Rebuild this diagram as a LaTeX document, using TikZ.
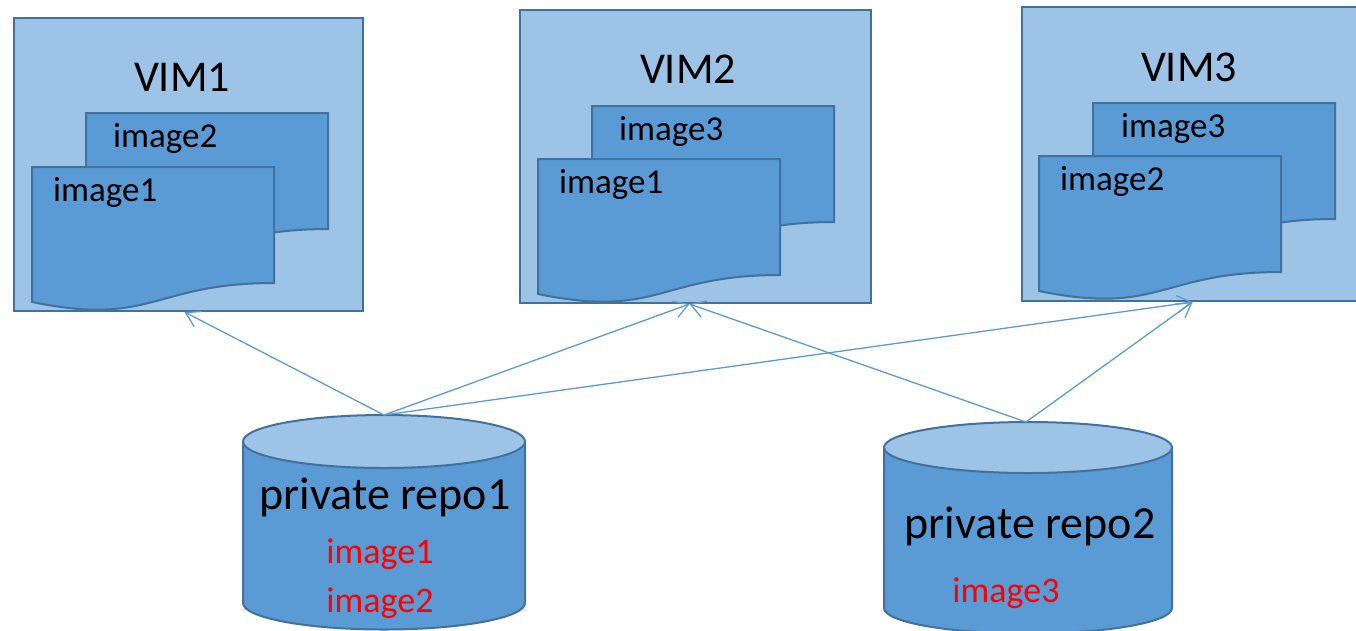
\documentclass[tikz,border=0pt]{standalone}
\usepackage{fontspec}
\setmainfont{Carlito}
\usetikzlibrary{arrows.meta}

\definecolor{vimfill}{HTML}{9DC3E6}
\definecolor{docfill}{HTML}{5B9BD5}
\definecolor{edgeblue}{HTML}{41719C}

% wavy image sheet: (left,top:text offset){name}{text}
\def\imgdoc(#1,#2:#3)#4#5{
	\draw[line width=2pt, draw=edgeblue, fill=docfill] (#1,#2) -- (#1+242,#2) -- (#1+242,#2+116)
		.. controls (#1+121,#2+116) and (#1+121,#2+160) .. (#1,#2+135) -- cycle;
	\node[doctext, anchor=base west] (#4) at (#1+#3,#2+34) {#5};
}
% repo drum: (centre x,top ellipse y,bottom ellipse y:half width,ellipse radius)
\def\repodrum(#1,#2,#3:#4,#5){
	\draw[line width=2pt, draw=edgeblue, fill=docfill] (#1-#4,#2) -- (#1-#4,#3)
		arc[start angle=180, end angle=0, x radius=#4, y radius=#5] -- (#1+#4,#2) -- cycle;
	\draw[line width=2pt, draw=edgeblue, fill=vimfill] (#1,#2) ellipse[x radius=#4, y radius=#5];
}

\tikzset{
	vimbox/.style={draw=edgeblue, line width=2pt, fill=vimfill, inner sep=0},
	vimtext/.style={inner sep=0, font=\fontsize{44}{50}\selectfont},
	doctext/.style={inner sep=0, font=\fontsize{35}{40}\selectfont},
	repotext/.style={inner sep=0, font=\fontsize{46}{52}\selectfont},
	redtext/.style={inner sep=0, text=red, font=\fontsize{36}{40}\selectfont},
	link/.style={draw=docfill, line width=1.3pt, -{Straight Barb[length=14pt,width=17pt]}}
}

\begin{document}
\begin{tikzpicture}[x=1pt, y=-1pt]
	%%%%% START %%%%%
	\clip (0,0) rectangle (1356,630);

	% VIM1
	\node[vimbox, minimum width=349pt, minimum height=293pt] (vimA) at (188.5,164.5) {};
	\node[vimtext, anchor=base] (vimAname) at (182,91) {VIM1};
	\imgdoc(86,113:27){vimAback}{image2}
	\imgdoc(32,167:21){vimAfront}{image1}

	% VIM2
	\node[vimbox, minimum width=351pt, minimum height=293pt] (vimB) at (695.5,156.5) {};
	\node[vimtext, anchor=base] (vimBname) at (688,83) {VIM2};
	\imgdoc(592,106:27){vimBback}{image3}
	\imgdoc(538,159:21){vimBfront}{image1}

	% VIM3, cut off at the right
	\node[vimbox, minimum width=351pt, minimum height=294pt] (vimC) at (1197.5,154) {};
	\node[vimtext, anchor=base] (vimCname) at (1189,81) {VIM3};
	\imgdoc(1093,103:28){vimCback}{image3}
	\imgdoc(1039,156:21){vimCfront}{image2}

	% repos
	\repodrum(384,441.5,603:141,26.5)
	\coordinate (repoA) at (384,415);
	\node[repotext, anchor=base] (repoAname) at (385,509) {private repo1};
	\node[redtext, anchor=base] (repoAimgA) at (380,563) {image1};
	\node[redtext, anchor=base] (repoAimgB) at (380,612) {image2};

	\repodrum(1028,447.5,608:144,25.5)
	\coordinate (repoB) at (1026,422);
	\node[repotext, anchor=base] (repoBname) at (1030,538) {private repo2};
	\node[redtext, anchor=base] (repoBimg) at (1006,602) {image3};

	% pushes
	\draw[link] (repoA) -- ([xshift=-4pt]vimA.south);
	\draw[link] (repoA) -- ([xshift=-6pt]vimB.south);
	\draw[link] (repoA) -- ([xshift=-5pt]vimC.south);
	\draw[link] (repoB) -- ([xshift=-6pt]vimB.south);
	\draw[link] (repoB) -- ([xshift=-5pt]vimC.south);
	%%%%% END %%%%%
\end{tikzpicture}
\end{document}
